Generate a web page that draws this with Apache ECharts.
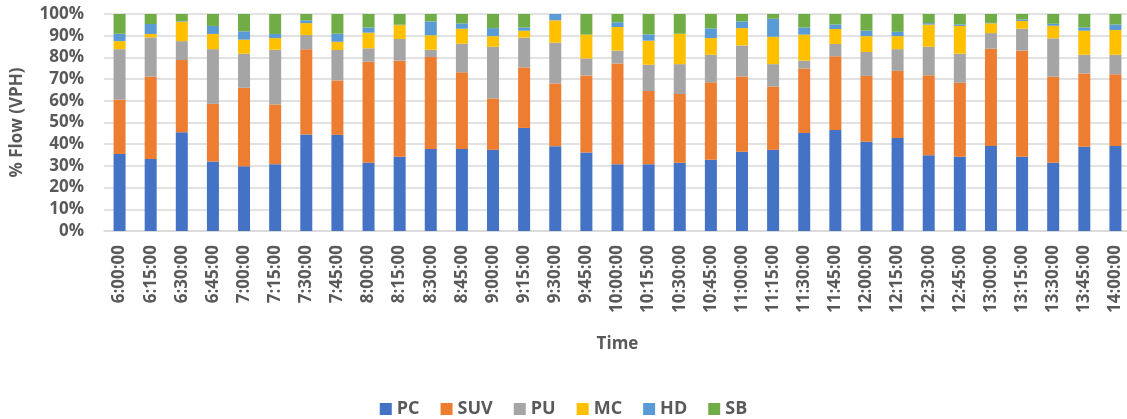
<!DOCTYPE html>
<html>
<head>
<meta charset="utf-8">
<script src="https://cdn.jsdelivr.net/npm/echarts@6/dist/echarts.min.js"></script>
<style>
  html, body { margin: 0; padding: 0; background: #fff; }
  #chart { width: 1127px; height: 419px; }
</style>
</head>
<body>
<div id="chart"></div>
<script>
// time slots (x axis)
var times = ['6:00:00','6:15:00','6:30:00','6:45:00','7:00:00','7:15:00','7:30:00','7:45:00',
  '8:00:00','8:15:00','8:30:00','8:45:00','9:00:00','9:15:00','9:30:00','9:45:00',
  '10:00:00','10:15:00','10:30:00','10:45:00','11:00:00','11:15:00','11:30:00','11:45:00',
  '12:00:00','12:15:00','12:30:00','12:45:00','13:00:00','13:15:00','13:30:00','13:45:00','14:00:00'];

// share of flow per vehicle class, in %
var PC  = [35.5,33.2,45.5,32,29.8,30.8,44.5,44.3,31.4,34.2,37.8,37.8,37.4,47.5,39.1,36.2,30.8,30.8,31.4,32.8,36.5,37.4,45.2,46.6,41.1,42.9,34.9,34.2,39.2,34.2,31.4,38.8,39.2];
var SUV = [25,38,33.3,26.6,36.2,27.5,39.2,25.1,46.6,44.3,42.4,35.3,23.7,27.9,28.9,35.5,46.4,33.7,31.7,35.7,34.7,29.2,29.7,33.9,30.4,30.9,36.9,34.1,44.8,48.9,39.7,33.8,33];
var PU  = [23.3,18,8.7,25.2,15.7,25.2,6.6,14,6.2,10,3.3,13.2,23.8,13.7,18.8,7.8,5.9,12.1,13.8,12.7,14.3,10.3,3.6,5.7,11,10,13.1,13.4,7.2,10.1,17.7,8.6,9];
var MC  = [3.7,1.6,9,7,6.5,5.4,5.5,3.8,7.2,6.4,6.7,6.9,4.9,3.2,10.3,11,10.9,11.1,14,7.7,8,12.6,12,6.9,7.3,6,10.2,12.8,4.5,3.6,5.8,11.1,11.4];
var HD  = [3.4,4.6,0.3,3.7,3.8,1.9,1.3,3.7,2.4,0.2,6.4,2.5,3.7,1.5,2.9,0,2.2,2.9,0,4.5,3.1,8.3,3.3,2.1,2.5,2,0.7,0.7,0.2,0.7,0.9,1.5,2.6];
var SB  = [9.1,4.6,3.2,5.5,8,9.2,2.9,9.1,6.2,4.9,3.4,4.3,6.5,6.2,0,9.5,3.8,9.4,9.1,6.6,3.4,2.2,6.2,4.8,7.7,8.2,4.2,4.8,4.1,2.5,4.5,6.2,4.8];

var names  = ['PC','SUV','PU','MC','HD','SB'];
var values = [PC, SUV, PU, MC, HD, SB];
var colors = ['#4472C4','#ED7D31','#A5A5A5','#FFC000','#5B9BD5','#70AD47'];

var txt = '#595959';
var font = '"Open Sans", sans-serif';

var chart = echarts.init(document.getElementById('chart'));

var series = [];
for (var i = 0; i < names.length; i++) {
  series.push({
    name: names[i],
    type: 'bar',
    stack: 'flow',
    barWidth: 12,
    itemStyle: { color: colors[i] },
    data: values[i]
  });
}

var option = {
  animation: false,
  color: colors,
  textStyle: { fontFamily: font },
  grid: { left: 104, right: -4, top: 14, bottom: 188, outerBoundsMode: 'none' },
  legend: {
    bottom: -4,
    left: 'center',
    itemWidth: 12,
    itemHeight: 12,
    itemGap: 21,
    icon: 'rect',
    textStyle: { color: txt, fontSize: 18, fontWeight: 'bold', fontFamily: font },
    data: names
  },
  xAxis: {
    type: 'category',
    data: times,
    name: 'Time',
    nameLocation: 'middle',
    nameGap: 105,
    nameTextStyle: { color: txt, fontSize: 17, fontWeight: 'bold', fontFamily: font },
    axisTick: { show: false },
    axisLine: { lineStyle: { color: '#d9d9d9', width: 1.5 } },
    axisLabel: { rotate: 90, margin: 14, interval: 0, color: txt, fontSize: 17, fontWeight: 'bold', fontFamily: font }
  },
  yAxis: {
    type: 'value',
    min: 0,
    max: 100,
    interval: 10,
    name: '% Flow (VPH)',
    nameLocation: 'middle',
    nameGap: 78,
    nameTextStyle: { color: txt, fontSize: 17, fontWeight: 'bold', fontFamily: font },
    axisLine: { show: false },
    axisTick: { show: false },
    splitLine: { lineStyle: { color: '#d9d9d9', width: 1.5 } },
    axisLabel: { formatter: '{value}%', margin: 20, color: txt, fontSize: 17, fontWeight: 'bold', fontFamily: font }
  },
  series: series
};

chart.setOption(option);
</script>
</body>
</html>
